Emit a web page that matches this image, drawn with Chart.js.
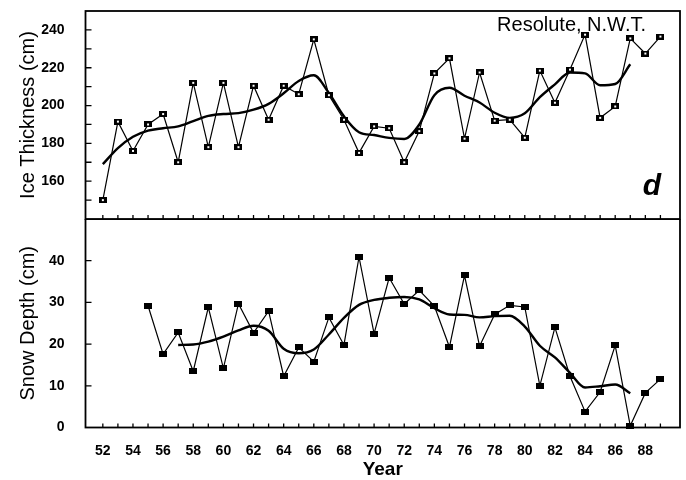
<!DOCTYPE html>
<html>
<head>
<meta charset="utf-8">
<script src="https://cdn.jsdelivr.net/npm/chart.js@4.4.1/dist/chart.umd.min.js"></script>
<style>
  html, body { margin: 0; padding: 0; background: #fff; overflow: hidden; }
  #wrap { position: relative; width: 686px; height: 480px; }
  canvas { position: absolute; left: 0; }
  #cIce { top: 0; }
  #cSnow { top: 219px; }
</style>
</head>
<body>
<div id="wrap">
  <canvas id="cIce" width="686" height="222"></canvas>
  <canvas id="cSnow" width="686" height="261"></canvas>
</div>
<script>
// ---- data (years 1952-1989, two-digit labels as in the figure) ----
const years = [52,53,54,55,56,57,58,59,60,61,62,63,64,65,66,67,68,69,70,71,72,73,74,75,76,77,78,79,80,81,82,83,84,85,86,87,88,89];

const iceThickness = [150,191.5,176,190,195.5,170,212,178,212,178,210.5,192.5,210.5,206,235,205.5,192.5,175,189,188,170,186.5,217,225,182.5,217.5,192,192.5,183,218.5,201.5,219,237.5,193.5,199.5,235.5,227.5,236.5];

const iceSmoothed = [169,177.5,183.5,186.7,188,189,191.8,194.5,195.5,196,197.8,200.9,206.5,213,216,206.6,194.3,185.9,184.4,182.9,182.3,190,205.5,209.4,205.2,201.6,196.2,193.5,195.9,204.4,211.2,217.5,217,210.7,211.4,221.8,null,null];

const snowDepth = [null,null,null,29.2,17.6,22.8,13.5,28.8,14.2,29.7,22.7,27.9,12.3,19.2,15.8,26.4,19.8,40.9,22.5,35.9,29.6,32.9,29.1,19.3,36.5,19.5,27.1,29.3,28.9,10,24,12.3,3.8,8.5,19.7,0.4,8.3,11.6];

const snowSmoothed = [null,null,null,null,null,19.8,19.9,20.6,21.8,23.3,24.4,23.2,18.9,17.8,18.7,22.3,26.3,29.4,30.6,31.1,31.3,30.7,28.6,27.1,27,26.4,26.7,26.8,24.2,19.6,16.8,13.1,9.6,9.9,10.3,8.2,null,null];

// tick values / labels
const xTickYears = [52,53,54,55,56,57,58,59,60,61,62,63,64,65,66,67,68,69,70,71,72,73,74,75,76,77,78,79,80,81,82,83,84,85,86,87,88,89];
const xLabelYears = [52,54,56,58,60,62,64,66,68,70,72,74,76,78,80,82,84,86,88];
const iceTickValues = [150,160,170,180,190,200,210,220,230,240];
const iceLabelValues = [160,180,200,220,240];
const snowTickValues = [10,20,30,40];
const snowLabelValues = [0,10,20,30,40];

const stationLabel = 'Resolute, N.W.T.';
const panelLetter = 'd';

// ---- styling ----
Chart.defaults.font.family = "'Liberation Sans', Arial, Helvetica, sans-serif";
Chart.defaults.color = '#000';

function makeMarker(hollow) {
  const c = document.createElement('canvas');
  c.width = 8; c.height = 6;
  const g = c.getContext('2d');
  g.fillStyle = '#000';
  g.fillRect(0, 0, 8, 6);
  if (hollow) { g.fillStyle = '#fff'; g.fillRect(3, 2, 2, 2); }
  return c;
}
const markerIce = makeMarker(true);
const markerSnow = makeMarker(false);

const frameAndTicks = {
  id: 'frameAndTicks',
  afterDatasetsDraw(chart, args, opts) {
    const {ctx, chartArea: a} = chart;
    const xs = chart.scales.x, ys = chart.scales.y;
    ctx.save();
    ctx.strokeStyle = '#000';
    ctx.lineWidth = 1.3;
    ctx.beginPath();
    opts.yTicks.forEach(v => {
      const py = ys.getPixelForValue(v);
      ctx.moveTo(a.left, py); ctx.lineTo(a.left + 6, py);
    });
    opts.xTicks.forEach(v => {
      const px = xs.getPixelForValue(v);
      ctx.moveTo(px, a.bottom); ctx.lineTo(px, a.bottom - 4);
    });
    ctx.stroke();
    ctx.lineWidth = 1.8;
    ctx.strokeRect(a.left, a.top, a.right - a.left, a.bottom - a.top);
    if (opts.station) {
      ctx.fillStyle = '#000';
      ctx.font = "20px 'Liberation Sans', Arial, sans-serif";
      ctx.textAlign = 'right';
      ctx.textBaseline = 'alphabetic';
      ctx.fillText(opts.station, 646, a.top + 20);
      ctx.font = "italic bold 30px 'Liberation Sans', Arial, sans-serif";
      ctx.fillText(opts.letter, 661, a.bottom - 24);
    }
    ctx.restore();
  }
};

function pts(ys) { return years.map((yr, i) => ({x: yr, y: ys[i]})); }

const xMin = 50.85, xMax = 90.3;

function yScale(min, max, labels, title) {
  return {
    type: 'linear', position: 'left', min, max,
    afterFit(s) { s.width = 85.5; s.paddingTop = 0; s.paddingBottom = 0; },
    grid: {display: false}, border: {display: false},
    ticks: {
      stepSize: 10, autoSkip: false, padding: 13,
      font: {size: 14, weight: 'bold'}, color: '#000',
      callback: v => labels.includes(v) ? String(v) : ''
    },
    title: {display: true, text: title, color: '#000',
            font: {size: 20, weight: 'normal'}, padding: {top: 16, bottom: 0}}
  };
}

const common = {
  responsive: false, animation: false,
  plugins: {legend: {display: false}, tooltip: {enabled: false}}
};

new Chart(document.getElementById('cIce'), {
  type: 'line',
  data: {datasets: [
    {data: pts(iceThickness), borderColor: '#000', borderWidth: 1.2, tension: 0,
     pointStyle: markerIce, pointRadius: 4, clip: false},
    {data: pts(iceSmoothed), borderColor: '#000', borderWidth: 2.4, cubicInterpolationMode: 'monotone',
     pointRadius: 0, clip: false}
  ]},
  options: Object.assign({}, common, {
    layout: {autoPadding: false, padding: {top: 11, right: 6, bottom: 3, left: 0}},
    scales: {
      x: {type: 'linear', min: xMin, max: xMax, display: false,
          afterFit(s) { s.paddingLeft = 0; s.paddingRight = 0; }},
      y: yScale(140, 250, iceLabelValues, 'Ice Thickness (cm)')
    },
    plugins: Object.assign({}, common.plugins, {
      frameAndTicks: {yTicks: iceTickValues, xTicks: xTickYears, station: stationLabel, letter: panelLetter}
    })
  }),
  plugins: [frameAndTicks]
});

new Chart(document.getElementById('cSnow'), {
  type: 'line',
  data: {datasets: [
    {data: pts(snowDepth), borderColor: '#000', borderWidth: 1.2, tension: 0,
     pointStyle: markerSnow, pointRadius: 4, clip: false},
    {data: pts(snowSmoothed), borderColor: '#000', borderWidth: 2.4, cubicInterpolationMode: 'monotone',
     pointRadius: 0, clip: false}
  ]},
  options: Object.assign({}, common, {
    layout: {autoPadding: false, padding: {top: 0, right: 6, bottom: 0, left: 0}},
    scales: {
      x: {
        type: 'linear', min: xMin, max: xMax, position: 'bottom',
        afterFit(s) { s.height = 52.5; s.paddingLeft = 0; s.paddingRight = 0; },
        afterBuildTicks(s) { s.ticks = xLabelYears.map(v => ({value: v})); },
        grid: {display: false}, border: {display: false},
        ticks: {autoSkip: false, maxRotation: 0, padding: 7.5,
                font: {size: 14, weight: 'bold'}, color: '#000',
                callback: v => String(v)},
        title: {display: true, text: 'Year', color: '#000',
                font: {size: 19, weight: 'bold', lineHeight: 1.1}, padding: {top: 0, bottom: 0}}
      },
      y: yScale(0, 50, snowLabelValues, 'Snow Depth (cm)')
    },
    plugins: Object.assign({}, common.plugins, {
      frameAndTicks: {yTicks: snowTickValues, xTicks: xTickYears}
    })
  }),
  plugins: [frameAndTicks]
});
</script>
</body>
</html>
